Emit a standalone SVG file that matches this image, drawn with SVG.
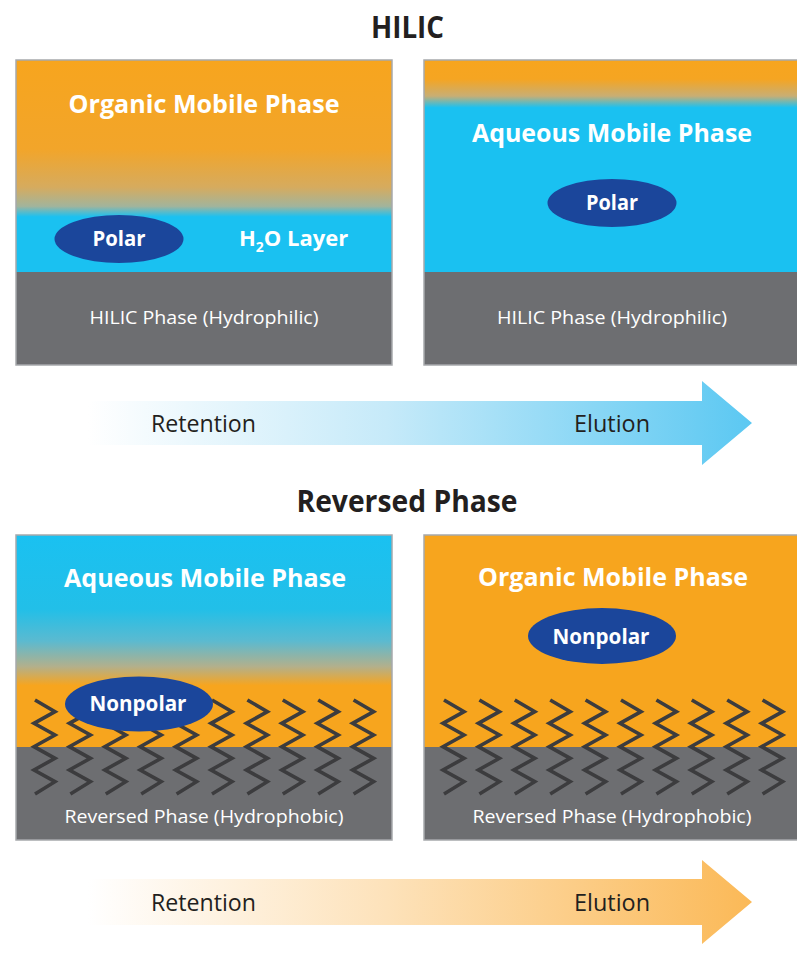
<svg xmlns="http://www.w3.org/2000/svg" xmlns:xlink="http://www.w3.org/1999/xlink" width="797" height="975" viewBox="0 0 797 975">
<style>
.title{font-family:"Open Sans","Liberation Sans",sans-serif;font-weight:700;font-size:30px;fill:#231F20;text-anchor:middle}
.phase{font-family:"Open Sans","Liberation Sans",sans-serif;font-weight:700;font-size:25px;fill:#ffffff;text-anchor:middle}
.blob{font-family:"Open Sans","Liberation Sans",sans-serif;font-weight:700;font-size:22px;fill:#ffffff;text-anchor:middle}
.stat{font-family:"Open Sans","Liberation Sans",sans-serif;font-size:19px;fill:#ffffff;text-anchor:middle}
.arr{font-family:"Open Sans","Liberation Sans",sans-serif;font-size:23px;fill:#231F20}
.border{fill:none;stroke:#a7a9ac;stroke-width:1.5}
.ell{fill:#1B469B}
.solid{fill:#6D6E71}
.zz{fill:none;stroke:#3C3C3E;stroke-width:3.6;stroke-linejoin:miter}
</style>
<defs>
<linearGradient id="g1" x1="0" y1="0" x2="0" y2="1">
<stop offset="0" stop-color="#F7A51E"/>
<stop offset="0.42" stop-color="#F2A52A"/>
<stop offset="0.6" stop-color="#D6AB5E"/>
<stop offset="0.69" stop-color="#A2B49C"/>
<stop offset="0.74" stop-color="#1AC1F1"/>
<stop offset="1" stop-color="#1AC1F1"/>
</linearGradient>
<linearGradient id="g2" x1="0" y1="0" x2="0" y2="1">
<stop offset="0" stop-color="#F7A51E"/>
<stop offset="0.09" stop-color="#F5A522"/>
<stop offset="0.17" stop-color="#C8AE74"/>
<stop offset="0.225" stop-color="#1AC1F1"/>
<stop offset="1" stop-color="#1AC1F1"/>
</linearGradient>
<linearGradient id="g3" x1="0" y1="0" x2="0" y2="1">
<stop offset="0" stop-color="#1AC1F1"/>
<stop offset="0.35" stop-color="#22BFE8"/>
<stop offset="0.5" stop-color="#5BBAD0"/>
<stop offset="0.62" stop-color="#B2B08C"/>
<stop offset="0.71" stop-color="#F7A51E"/>
<stop offset="1" stop-color="#F7A51E"/>
</linearGradient>
<linearGradient id="ga1" gradientUnits="userSpaceOnUse" x1="88" y1="0" x2="752" y2="0">
<stop offset="0" stop-color="#ffffff"/>
<stop offset="0.45" stop-color="#C6EAF9"/>
<stop offset="1" stop-color="#5BC8F2"/>
</linearGradient>
<linearGradient id="ga2" gradientUnits="userSpaceOnUse" x1="88" y1="0" x2="752" y2="0">
<stop offset="0" stop-color="#ffffff"/>
<stop offset="0.45" stop-color="#FDE2BA"/>
<stop offset="1" stop-color="#FBB957"/>
</linearGradient>
<path id="zig" class="zz" d="M1,0 L21,11.7 L0,23.3 L21,35 L0,46.7 L21,58.3 L0,70 L21,81.7 L1,94"/>
</defs>

<text class="title" x="407.5" y="38" textLength="73" lengthAdjust="spacingAndGlyphs">HILIC</text>
<text class="title" x="407" y="512" textLength="221" lengthAdjust="spacingAndGlyphs">Reversed Phase</text>

<g id="hilic-retention">
<rect x="16" y="60" width="376" height="212" fill="url(#g1)"/>
<rect class="solid" x="16" y="272" width="376" height="93"/>
<rect class="border" x="16" y="60" width="376" height="305"/>
<text class="phase" x="204" y="113" textLength="271" lengthAdjust="spacingAndGlyphs">Organic Mobile Phase</text>
<ellipse class="ell" cx="119" cy="239" rx="64.5" ry="24"/>
<text class="blob" x="119" y="246" textLength="53" lengthAdjust="spacingAndGlyphs">Polar</text>
<text class="blob" x="239" y="246" style="text-anchor:start;font-size:22px">H<tspan font-size="14" dy="6">2</tspan><tspan dy="-6">O Layer</tspan></text>
<text class="stat" x="204" y="324" textLength="229" lengthAdjust="spacingAndGlyphs">HILIC Phase (Hydrophilic)</text>
</g>

<g id="hilic-elution">
<rect x="424" y="60" width="380" height="212" fill="url(#g2)"/>
<rect class="solid" x="424" y="272" width="380" height="93"/>
<rect class="border" x="424" y="60" width="380" height="305"/>
<text class="phase" x="612" y="142" textLength="280" lengthAdjust="spacingAndGlyphs">Aqueous Mobile Phase</text>
<ellipse class="ell" cx="612" cy="203" rx="64.5" ry="24"/>
<text class="blob" x="612" y="210" textLength="52" lengthAdjust="spacingAndGlyphs">Polar</text>
<text class="stat" x="612" y="324" textLength="230" lengthAdjust="spacingAndGlyphs">HILIC Phase (Hydrophilic)</text>
</g>

<g id="rp-retention">
<rect x="16" y="535" width="376" height="212" fill="url(#g3)"/>
<rect class="solid" x="16" y="747" width="376" height="93"/>
<g>
<use xlink:href="#zig" x="34" y="700"/>
<use xlink:href="#zig" x="69.4" y="700"/>
<use xlink:href="#zig" x="104.8" y="700"/>
<use xlink:href="#zig" x="140.2" y="700"/>
<use xlink:href="#zig" x="175.6" y="700"/>
<use xlink:href="#zig" x="211" y="700"/>
<use xlink:href="#zig" x="246.4" y="700"/>
<use xlink:href="#zig" x="281.8" y="700"/>
<use xlink:href="#zig" x="317.2" y="700"/>
<use xlink:href="#zig" x="352.6" y="700"/>
</g>
<rect class="border" x="16" y="535" width="376" height="305"/>
<text class="phase" x="205" y="587" textLength="282" lengthAdjust="spacingAndGlyphs">Aqueous Mobile Phase</text>
<ellipse class="ell" cx="139" cy="704" rx="74" ry="27.5"/>
<text class="blob" x="138" y="711" textLength="97" lengthAdjust="spacingAndGlyphs">Nonpolar</text>
<text class="stat" x="204" y="823" textLength="279" lengthAdjust="spacingAndGlyphs">Reversed Phase (Hydrophobic)</text>
</g>

<g id="rp-elution">
<rect x="424" y="535" width="380" height="212" fill="#F7A51E"/>
<rect class="solid" x="424" y="747" width="380" height="93"/>
<g>
<use xlink:href="#zig" x="443" y="700"/>
<use xlink:href="#zig" x="478.4" y="700"/>
<use xlink:href="#zig" x="513.8" y="700"/>
<use xlink:href="#zig" x="549.2" y="700"/>
<use xlink:href="#zig" x="584.6" y="700"/>
<use xlink:href="#zig" x="620" y="700"/>
<use xlink:href="#zig" x="655.4" y="700"/>
<use xlink:href="#zig" x="690.8" y="700"/>
<use xlink:href="#zig" x="726.2" y="700"/>
<use xlink:href="#zig" x="761.6" y="700"/>
</g>
<rect class="border" x="424" y="535" width="380" height="305"/>
<text class="phase" x="613" y="586" textLength="270" lengthAdjust="spacingAndGlyphs">Organic Mobile Phase</text>
<ellipse class="ell" cx="602" cy="636" rx="74" ry="28"/>
<text class="blob" x="601" y="644" textLength="97" lengthAdjust="spacingAndGlyphs">Nonpolar</text>
<text class="stat" x="612" y="823" textLength="279" lengthAdjust="spacingAndGlyphs">Reversed Phase (Hydrophobic)</text>
</g>

<g id="arrows">
<polygon points="88,401 702,401 702,381 752,423 702,465 702,445 88,445" fill="url(#ga1)"/>
<text class="arr" x="151" y="432" textLength="105" lengthAdjust="spacingAndGlyphs">Retention</text>
<text class="arr" x="574" y="432" textLength="76" lengthAdjust="spacingAndGlyphs">Elution</text>
<polygon points="88,879 702,879 702,860 752,902 702,944 702,925 88,925" fill="url(#ga2)"/>
<text class="arr" x="151" y="911" textLength="105" lengthAdjust="spacingAndGlyphs">Retention</text>
<text class="arr" x="574" y="911" textLength="76" lengthAdjust="spacingAndGlyphs">Elution</text>
</g>
</svg>
